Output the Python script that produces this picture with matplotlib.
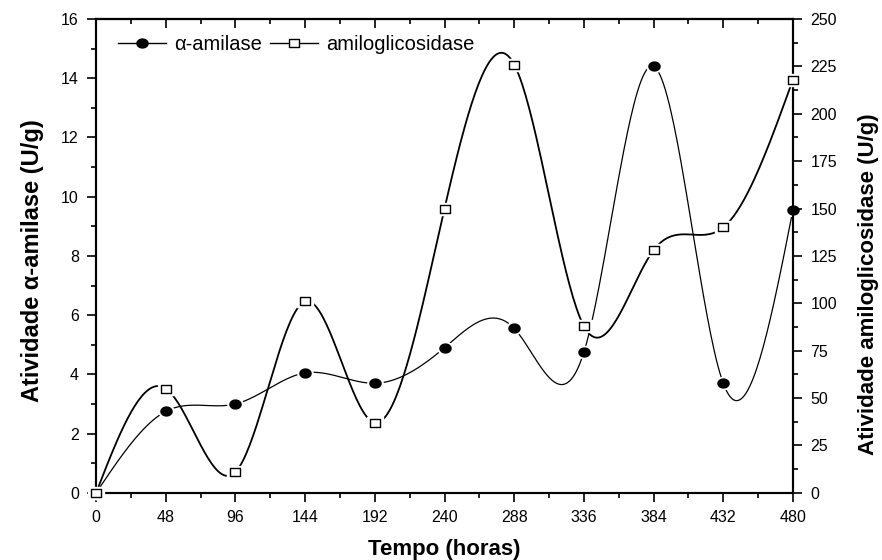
import numpy as np
import matplotlib.pyplot as plt
from matplotlib.path import Path
from matplotlib.ticker import MultipleLocator

plt.rcParams['font.family'] = ['Liberation Sans', 'DejaVu Sans']

# data
tempo = [0, 48, 96, 144, 192, 240, 288, 336, 384, 432, 480]
amilase = [0.0, 2.75, 3.0, 4.05, 3.7, 4.9, 5.55, 4.75, 14.4, 3.7, 9.55]
amiloglicosidase = [0, 55, 11, 101, 37, 150, 226, 88, 128, 140, 218]


def spline(x, y, n=400):
    # natural cubic spline, only used to draw the smooth connecting curve
    x = np.asarray(x, float)
    y = np.asarray(y, float)
    h = np.diff(x)
    m = len(x)
    A = np.zeros((m, m))
    b = np.zeros(m)
    A[0, 0] = A[-1, -1] = 1
    for i in range(1, m - 1):
        A[i, i - 1] = h[i - 1]
        A[i, i] = 2 * (h[i - 1] + h[i])
        A[i, i + 1] = h[i]
        b[i] = 6 * ((y[i + 1] - y[i]) / h[i] - (y[i] - y[i - 1]) / h[i - 1])
    M = np.linalg.solve(A, b)
    xs = np.linspace(x[0], x[-1], n)
    k = np.clip(np.searchsorted(x, xs) - 1, 0, m - 2)
    t0 = xs - x[k]
    t1 = x[k + 1] - xs
    hk = h[k]
    ys = (M[k] * t1**3 + M[k + 1] * t0**3) / (6 * hk) \
        + (y[k] / hk - M[k] * hk / 6) * t1 + (y[k + 1] / hk - M[k + 1] * hk / 6) * t0
    return xs, ys


# slightly flattened markers, like the original
th = np.linspace(0, 2 * np.pi, 41)
ellipse = Path(np.column_stack([np.cos(th), 0.8 * np.sin(th)]), closed=True)
rect = Path([(-1, -0.75), (1, -0.75), (1, 0.75), (-1, 0.75), (-1, -0.75)], closed=True)

fig = plt.figure(figsize=(8.82, 5.6), dpi=100)
ax = fig.add_axes([0.109, 0.12, 0.79, 0.846])
ax2 = ax.twinx()

xs, ys = spline(tempo, amilase)
ax.plot(xs, ys, color='black', lw=0.9, zorder=2)
ax.plot(tempo, amilase, ls='none', marker=ellipse, ms=11, mfc='white', mec='white', zorder=3, clip_on=False)
ax.plot(tempo, amilase, ls='none', marker=ellipse, ms=8, mfc='black', mec='black', zorder=4, clip_on=False)

xs2, ys2 = spline(tempo, amiloglicosidase)
ax2.plot(xs2, ys2, color='black', lw=1.3, zorder=2)
ax2.plot(tempo, amiloglicosidase, ls='none', marker=rect, ms=11, mfc='white', mec='white', zorder=3, clip_on=False)
ax2.plot(tempo, amiloglicosidase, ls='none', marker=rect, ms=7.5, mfc='white', mec='black', mew=1.0, zorder=4, clip_on=False)

ax.set_xlim(0, 480)
ax.set_ylim(0, 16)
ax2.set_ylim(0, 250)

ax.xaxis.set_major_locator(MultipleLocator(48))
ax.xaxis.set_minor_locator(MultipleLocator(24))
ax.yaxis.set_major_locator(MultipleLocator(2))
ax.yaxis.set_minor_locator(MultipleLocator(1))
ax2.yaxis.set_major_locator(MultipleLocator(25))
ax2.yaxis.set_minor_locator(MultipleLocator(12.5))

ax.tick_params(axis='x', which='major', direction='out', length=6.5, width=1.2, labelsize=11.5, pad=6)
ax.tick_params(axis='x', which='minor', direction='out', length=3.5, width=1.2)
ax.tick_params(axis='y', which='major', direction='out', length=6.5, width=1.2, labelsize=11.5, pad=6)
ax.tick_params(axis='y', which='minor', direction='out', length=3.5, width=1.2)
ax2.tick_params(axis='y', which='major', direction='out', length=6.5, width=1.2, labelsize=11.5, pad=6)
ax2.tick_params(axis='y', which='minor', direction='out', length=3.5, width=1.2)

# top axis: inward ticks, no labels
top = ax.secondary_xaxis('top')
top.xaxis.set_major_locator(MultipleLocator(48))
top.xaxis.set_minor_locator(MultipleLocator(24))
top.tick_params(which='major', direction='in', length=6.5, width=1.2, labeltop=False)
top.tick_params(which='minor', direction='in', length=3.5, width=1.2)

for a in (ax, ax2, top):
    for s in a.spines.values():
        s.set_linewidth(1.5)

ax.set_xlabel('Tempo (horas)', fontsize=16, fontweight='bold', labelpad=10)
ax.set_ylabel('Atividade α-amilase (U/g)', fontsize=17, fontweight='bold', labelpad=12)
ax2.set_ylabel('Atividade amiloglicosidase (U/g)', fontsize=16, fontweight='bold', labelpad=15)
ax.yaxis.label.set_y(0.49)
ax2.yaxis.label.set_y(0.44)

h1 = plt.Line2D([], [], color='black', lw=1, marker=ellipse, ms=8, mfc='black', mec='black')
h2 = plt.Line2D([], [], color='black', lw=1, marker=rect, ms=7.5, mfc='white', mec='black')
ax2.legend([h1, h2], ['α-amilase', 'amiloglicosidase'], loc='upper left',
           bbox_to_anchor=(0.005, 1.005), ncol=2, frameon=False, fontsize=14.5,
           handlelength=2.4, columnspacing=0.4, handletextpad=0.4)

fig.savefig('out.png', dpi=100)
